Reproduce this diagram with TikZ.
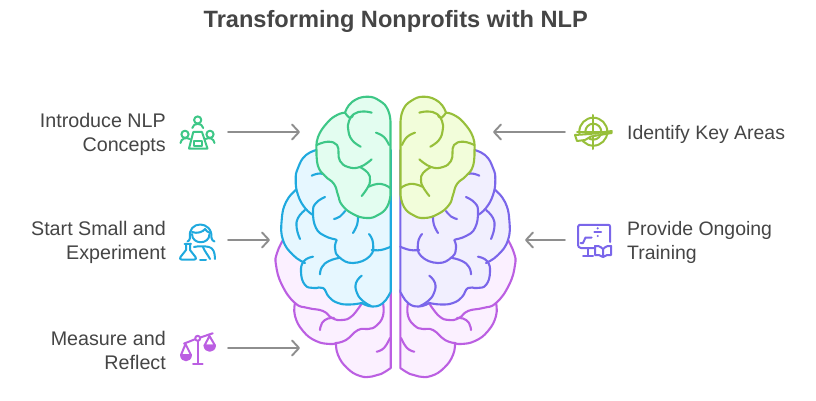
\documentclass[tikz,border=0pt]{standalone}
\usepackage{fontspec}
\setmainfont{Liberation Sans}
\usetikzlibrary{arrows.meta}
\definecolor{txt}{HTML}{454545}
\definecolor{arrowgray}{HTML}{8E8E8E}
\definecolor{gS}{HTML}{3EC787}\definecolor{gF}{HTML}{E3FDF0}
\definecolor{bS}{HTML}{1FA9DE}\definecolor{bF}{HTML}{E6F7FF}
\definecolor{pS}{HTML}{BB5FE2}\definecolor{pF}{HTML}{FBF0FF}
\definecolor{lS}{HTML}{97BF3A}\definecolor{lF}{HTML}{F2FDDA}
\definecolor{vS}{HTML}{7A66EA}\definecolor{vF}{HTML}{F1EFFE}
\tikzset{
 x=1pt,y=-1pt,
 lbl/.style={font=\fontsize{19.7}{24}\selectfont,text=txt,inner sep=0pt},
 rlbl/.style={font=\fontsize{19.45}{24}\selectfont,text=txt,inner sep=0pt},
 ttl/.style={font=\fontsize{23.6}{28}\selectfont\bfseries,text=txt,inner sep=0pt},
 conn/.style={draw=arrowgray,line width=1.9pt,line cap=round,-{Straight Barb[length=7pt,width=15pt,line width=1.9pt,round]}},
 brainline/.style={line width=2.1pt,line cap=round,line join=round},
 ico/.style={line width=2pt,line cap=round,line join=round},
 sm/.style={smooth,tension=.8}
}
% whole half brain; the right half is its mirror image
\newcommand{\halfbrain}[6]{% pS pF bS bF gS gF
 % purple fill
 \path[fill=#2] plot[sm] coordinates{(283,240)(277,253)(276,265)(282,285)(295,303)(308,308)(323,311)} -- (345,300) -- (345,230) -- cycle;
 \path[fill=#2] plot[sm] coordinates{(295,303)(295,316)(303,331)(316,341)(336,343)} -- (345,300) -- cycle;
 \path[fill=#2] plot[sm] coordinates{(336,343)(338,355)(347,368)(360,376)(372,376.5)(381,374)(390.7,368)} -- (390.7,290) -- (340,300) -- cycle;
 \path[fill=#2] plot[sm] coordinates{(383,303)(383,316)(376,326)(368,329)(358,330)(346,340)(336,343)} -- (345,300) -- cycle;
 % purple lines
 \draw[brainline,draw=#1]
  plot[sm] coordinates{(283,240)(277,253)(276,265)(282,285)(295,303)(308,308)(323,311)(332,318)(342,320)(352,316)(362,303)};
 \draw[brainline,draw=#1]
  plot[sm] coordinates{(336,343)(338,355)(347,368)(360,376)(372,376.5)(381,374)(390.7,368)} -- (390.7,290);
 \draw[brainline,draw=#1] plot[sm] coordinates{(295,303)(295,316)(303,331)(316,341)(330,344)(336,343)};
 \draw[brainline,draw=#1] plot[sm] coordinates{(336,343)(346,340)(358,330)(368,329)(376,326)(383,316)(383,303)};
 \draw[brainline,draw=#1] plot[sm] coordinates{(320,330)(322,323)(328,318.5)(334,318)};
 \draw[brainline,draw=#1] plot[sm] coordinates{(376.7,351.7)(384,348)(390,338)};
 % blue fill
 \path[fill=#4] plot[sm] coordinates{(320,149)(306,155)(298,168)(295.7,180)(296.5,188)}
  -- plot[sm] coordinates{(295.7,190)(286,202)(281.7,220)(283,240)(293,255)(305,263)}
  -- plot[sm] coordinates{(304,261)(301,272)(305,285)(314,288)(323,288)}
  -- plot[sm] coordinates{(323,288)(329,297)(338,303)(350,304.5)(361.7,303)}
  -- plot[sm] coordinates{(361.7,303)(372,306.5)(383,303)(390.7,291.7)}
  -- (390.7,150) -- cycle;
 % blue lines
 \draw[brainline,draw=#3] plot[sm] coordinates{(320,149)(306,155)(298,168)(295.7,180)(298,195)(305,208)(313,215)};
 \draw[brainline,draw=#3] plot[sm] coordinates{(295.7,190)(286,202)(281.7,220)(283,240)(293,255)(305,263)};
 \draw[brainline,draw=#3] plot[sm] coordinates{(313,256.7)(304,261)(301,272)(305,285)(314,288)(323,288)(329,297)(338,303)(350,304.5)(361.7,303)};
 \draw[brainline,draw=#3] plot[sm] coordinates{(361.7,303)(372,306.5)(383,303)(390.7,291.7)} -- (390.7,150);
 \draw[brainline,draw=#3] plot[sm] coordinates{(325,197)(316,203)(313,212)(316,228)(325,236)(336,239.5)};
 \draw[brainline,draw=#3] plot[sm] coordinates{(369,234)(373,243)(370,256)(353,263)(339,257)(335,248)(336.7,240)};
 \draw[brainline,draw=#3] plot[sm] coordinates{(358,217)(357,225)(353,233)};
 \draw[brainline,draw=#3] plot[sm] coordinates{(345,211)(340,216.5)(334,219)};
 \draw[brainline,draw=#3] plot[sm] coordinates{(311.7,175.7)(320,173.5)(330,176)};
 \draw[brainline,draw=#3] plot[sm] coordinates{(305,210)(298,218)(296.7,228)(300,239)};
 \draw[brainline,draw=#3] plot[sm] coordinates{(371.7,250)(381,250)(390.7,246.7)};
 \draw[brainline,draw=#3] plot[sm] coordinates{(340,257.7)(329,261)(322,267)(320,274.3)};
 \draw[brainline,draw=#3] plot[sm] coordinates{(361.7,275.7)(356,283)(357,293)(363,301)(371,306)};
 % green
 \draw[brainline,draw=#5,fill=#6] plot[sm] coordinates{(345,112.7)(352,102)(366.7,96.7)(380,101)(388,110)(390.5,122)}
  -- (390.5,195) -- plot[sm] coordinates{(390.5,195)(387,207)(378,215)(366.7,218)(353,214)(342,205)(338,195)(334,184)(325,176)(318,166)(316.5,150)}
  -- plot[sm] coordinates{(316.5,150)(318,137)(327,123)(337,115)(345,112.7)} -- cycle;
 \draw[brainline,draw=#5] plot[sm] coordinates{(371.7,112.7)(363,111.5)(354,114)(349,121)(348.3,130)(352,140)(360.7,146.7)};
 \draw[brainline,draw=#5] plot[sm] coordinates{(345,112.7)(350,118)(353,115)};
 \draw[brainline,draw=#5] plot[sm] coordinates{(376,132.7)(384,137)(389,145)};
 \draw[brainline,draw=#5] plot[sm] coordinates{(316.7,145)(328,141.7)(337,145)(338.5,153)(340,161)(348,167)(360,167)(371.7,159.3)};
 \draw[brainline,draw=#5] plot[sm] coordinates{(360,167)(368,173)(370,180)(368,187)(361.7,196)};
 \draw[brainline,draw=#5] plot[sm] coordinates{(368,187)(377,184)(385,185)(390,188)};
}
\begin{document}
\begin{tikzpicture}
\useasboundingbox (0,0) rectangle (816,401);
\fill[white] (0,0) rectangle (816,401);
\node[ttl] (title) at (395.7,21) {Transforming Nonprofits with NLP};

\halfbrain{pS}{pF}{bS}{bF}{gS}{gF}
\begin{scope}[xshift=791pt,xscale=-1]
\halfbrain{pS}{pF}{vS}{vF}{lS}{lF}
\end{scope}

% labels
\node[lbl,anchor=east,align=right] (t1) at (166,134.5) {Introduce NLP\\Concepts};
\node[lbl,anchor=east,align=right] (t2) at (166,242.5) {Start Small and\\Experiment};
\node[lbl,anchor=east,align=right] (t3) at (166,350.5) {Measure and\\Reflect};
\node[rlbl,anchor=west,align=left] (t4) at (627,134.5) {Identify Key Areas};
\node[rlbl,anchor=west,align=left] (t5) at (627,242.5) {Provide Ongoing\\Training};

% connector ends
\coordinate (a1s) at (228,132); \coordinate (a1e) at (300,132);
\coordinate (a2s) at (228,240); \coordinate (a2e) at (270,240);
\coordinate (a3s) at (228,348); \coordinate (a3e) at (300,348);
\coordinate (a4s) at (565,132); \coordinate (a4e) at (493,132);
\coordinate (a5s) at (565,240); \coordinate (a5e) at (525,240);
\draw[conn] (a1s) -- (a1e);
\draw[conn] (a2s) -- (a2e);
\draw[conn] (a3s) -- (a3e);
\draw[conn] (a4s) -- (a4e);
\draw[conn] (a5s) -- (a5e);

% icon: meeting
\begin{scope}[ico,draw=gS]
\draw (197.7,120) circle (3.6);
\draw (192.3,128) .. controls (193,122.5) and (202.5,122.5) .. (203.2,128);
\draw (185,134.3) circle (3.6);
\draw (180.5,143) .. controls (181,138.5) and (186,137) .. (190,139);
\draw (210,134.3) circle (3.6);
\draw (214.5,143) .. controls (214,138.5) and (209,137) .. (205.5,139);
\draw (193.3,132) -- (202,132) -- (207.5,148.5) -- (189,148.5) -- cycle;
\draw (194.3,141) rectangle (202.3,146);
\end{scope}
% icon: scientist
\begin{scope}[ico,draw=bS]
\draw (190,238) .. controls (187,220) and (213,220) .. (211.5,238);
\draw (192,232) .. controls (197,234) and (203,232) .. (205,229) .. controls (206,231) and (208,232) .. (209.5,232.5);
\draw (192,234) .. controls (192,245) and (209.5,245) .. (209.5,234);
\draw (190,238) .. controls (189.5,240) and (189,241) .. (187.5,241.5);
\draw (211.5,238) .. controls (212,240) and (213,241) .. (214.5,241.5);
\draw (184.5,243.5) -- (191,243.5);
\draw (186,243.5) -- (186,250) -- (180.5,257) .. controls (179.5,258.5) and (180,259.5) .. (181.5,259.5) -- (194.5,259.5) .. controls (196,259.5) and (196.5,258.5) .. (195.5,257) -- (190,250) -- (190,243.5);
\draw (194,247) .. controls (198,246) and (205,246) .. (209,247) .. controls (213,248) and (215,252) .. (215,259);
\draw (203,247) .. controls (205,252) and (208,255) .. (210,259);
\draw (200,259.5) -- (206,259.5);
\end{scope}
% icon: scale
\begin{scope}[ico,draw=pS]
\draw (184,343.6) -- (195.2,339.2);
\draw (200.2,337.5) -- (212.7,333.3);
\draw (197.7,338.3) circle (2.5);
\draw (197.7,341) -- (197.7,363.5);
\draw (193,364) -- (202.7,364);
\draw (185.5,344) -- (181,355) -- (191,355) -- cycle;
\draw[fill=pS] (181,355) .. controls (181.5,362) and (190.5,362) .. (191,355) -- cycle;
\draw (209.5,336) -- (204.5,345.5) -- (215,345.5) -- cycle;
\draw[fill=pS] (204.5,345.5) .. controls (205,352.5) and (214.5,352.5) .. (215,345.5) -- cycle;
\end{scope}
% icon: target
\begin{scope}[ico,draw=lS]
\draw (593.3,131.7) circle (14);
\draw (593.3,131.7) circle (8);
\draw (593.3,115) -- (593.3,149);
\draw (577,131.7) -- (610,131.7);
\draw[fill=white] (575,135) -- (590,134) -- (611.7,131) -- (611.7,133) -- (591,136.5) -- (585,140) -- (577,141) -- cycle;
\end{scope}
% icon: training
\begin{scope}[ico,draw=vS]
\draw (578,243) -- (578,226.5) .. controls (578,225.3) and (578.5,224.8) .. (579.5,224.8) -- (608,224.8) .. controls (609.5,224.8) and (610,225.5) .. (610,226.5) -- (610,242);
\draw (578,243) .. controls (578,247) and (579,248) .. (581,248) -- (594,248);
\draw (588.3,248) -- (588.3,255);
\draw (583,255.7) -- (593,255.7);
\draw (594.3,232.3) -- (601,232.3);
\fill[vS] (597.7,228.3) circle (1.2); \fill[vS] (597.7,236) circle (1.2);
\draw (580.5,243) -- (583,243) -- (585.5,237.5) -- (591.5,237.5);
\draw (603,249) .. controls (600,246) and (597,245.5) .. (595,246) -- (595,255) .. controls (598,254.5) and (600,255) .. (603,257) .. controls (606,255) and (608,254.5) .. (611,255) -- (611,246) .. controls (609,245.5) and (606,246) .. (603,249) -- (603,257);
\end{scope}
\end{tikzpicture}
\end{document}
